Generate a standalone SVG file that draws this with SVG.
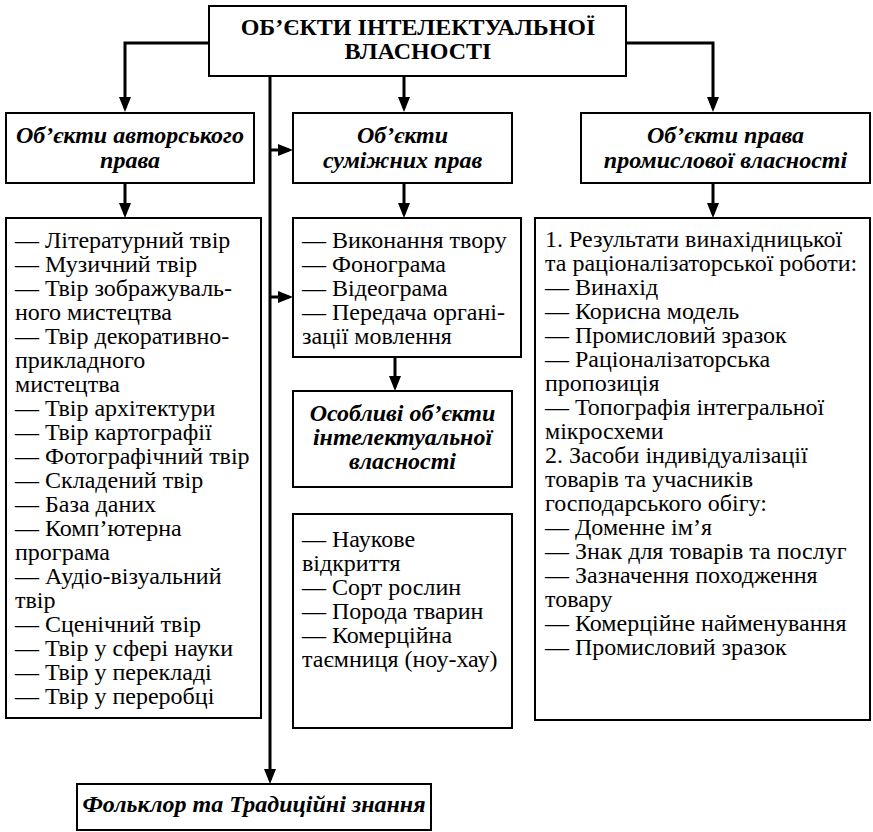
<svg xmlns="http://www.w3.org/2000/svg" width="873" height="832" viewBox="0 0 873 832">
<style>
  .box { fill: #fff; stroke: #000; stroke-width: 2; }
  .conn { fill: none; stroke: #000; stroke-width: 3; }
  text { font-family: "Liberation Serif", "Times New Roman", serif; fill: #000; }
  .title { font-weight: bold; font-size: 24px; text-anchor: middle; }
  .head { font-weight: bold; font-style: italic; font-size: 24px; text-anchor: middle; }
  .list { font-size: 24px; }
</style>
<defs>
  <marker id="arr" markerUnits="userSpaceOnUse" markerWidth="15" markerHeight="12" refX="11" refY="6" orient="auto">
    <path d="M0,0 L15,6 L0,12 z" fill="#000"/>
  </marker>
</defs>

<g id="connectors">
  <path class="conn" d="M209,43 H125 V108" marker-end="url(#arr)"/>
  <path class="conn" d="M626,43 H713 V108" marker-end="url(#arr)"/>
  <path class="conn" d="M404,76 V108" marker-end="url(#arr)"/>
  <path class="conn" d="M270,76 V780" marker-end="url(#arr)"/>
  <path class="conn" d="M270,150 H289" marker-end="url(#arr)"/>
  <path class="conn" d="M270,297 H289" marker-end="url(#arr)"/>
  <path class="conn" d="M125,183 V214" marker-end="url(#arr)"/>
  <path class="conn" d="M404,183 V214" marker-end="url(#arr)"/>
  <path class="conn" d="M713,183 V214" marker-end="url(#arr)"/>
  <path class="conn" d="M395,357 V387" marker-end="url(#arr)"/>
</g>

<g id="root">
  <rect class="box" x="209" y="6" width="417" height="70"/>
  <text class="title" x="418" y="35">ОБ’ЄКТИ ІНТЕЛЕКТУАЛЬНОЇ</text>
  <text class="title" x="418" y="59">ВЛАСНОСТІ</text>
</g>

<g id="author">
  <rect class="box" x="6" y="113" width="248" height="70"/>
  <text class="head" x="130" y="143">Об’єкти авторського</text>
  <text class="head" x="130" y="168">права</text>
</g>

<g id="related">
  <rect class="box" x="293" y="113" width="219" height="70"/>
  <text class="head" x="402.5" y="143">Об’єкти</text>
  <text class="head" x="402.5" y="168">суміжних прав</text>
</g>

<g id="industrial">
  <rect class="box" x="581" y="113" width="289" height="70"/>
  <text class="head" x="725.5" y="143">Об’єкти права</text>
  <text class="head" x="725.5" y="168">промислової власності</text>
</g>

<g id="author-list">
  <rect class="box" x="6" y="218" width="255" height="500"/>
  <text class="list" x="15" y="248">
    <tspan x="15" dy="0">— Літературний твір</tspan>
    <tspan x="15" dy="24">— Музичний твір</tspan>
    <tspan x="15" dy="24">— Твір зображуваль-</tspan>
    <tspan x="15" dy="24">ного мистецтва</tspan>
    <tspan x="15" dy="24">— Твір декоративно-</tspan>
    <tspan x="15" dy="24">прикладного</tspan>
    <tspan x="15" dy="24">мистецтва</tspan>
    <tspan x="15" dy="24">— Твір архітектури</tspan>
    <tspan x="15" dy="24">— Твір картографії</tspan>
    <tspan x="15" dy="24">— Фотографічний твір</tspan>
    <tspan x="15" dy="24">— Складений твір</tspan>
    <tspan x="15" dy="24">— База даних</tspan>
    <tspan x="15" dy="24">— Комп’ютерна</tspan>
    <tspan x="15" dy="24">програма</tspan>
    <tspan x="15" dy="24">— Аудіо-візуальний</tspan>
    <tspan x="15" dy="24">твір</tspan>
    <tspan x="15" dy="24">— Сценічний твір</tspan>
    <tspan x="15" dy="24">— Твір у сфері науки</tspan>
    <tspan x="15" dy="24">— Твір у перекладі</tspan>
    <tspan x="15" dy="24">— Твір у переробці</tspan>
  </text>
</g>

<g id="related-list">
  <rect class="box" x="293" y="218" width="228" height="139"/>
  <text class="list" x="302" y="248">
    <tspan x="302" dy="0">— Виконання твору</tspan>
    <tspan x="302" dy="24">— Фонограма</tspan>
    <tspan x="302" dy="24">— Відеограма</tspan>
    <tspan x="302" dy="24">— Передача органі-</tspan>
    <tspan x="302" dy="24">зації мовлення</tspan>
  </text>
</g>

<g id="special">
  <rect class="box" x="293" y="391" width="219" height="96"/>
  <text class="head" x="402.5" y="421">Особливі об’єкти</text>
  <text class="head" x="402.5" y="445">інтелектуальної</text>
  <text class="head" x="402.5" y="469">власності</text>
</g>

<g id="special-list">
  <rect class="box" x="293" y="514" width="219" height="214"/>
  <text class="list" x="302" y="547">
    <tspan x="302" dy="0">— Наукове</tspan>
    <tspan x="302" dy="24">відкриття</tspan>
    <tspan x="302" dy="24">— Сорт рослин</tspan>
    <tspan x="302" dy="24">— Порода тварин</tspan>
    <tspan x="302" dy="24">— Комерційна</tspan>
    <tspan x="302" dy="24">таємниця (ноу-хау)</tspan>
  </text>
</g>

<g id="industrial-list">
  <rect class="box" x="535" y="218" width="335" height="502"/>
  <text class="list" x="545" y="247">
    <tspan x="545" dy="0">1. Результати винахідницької</tspan>
    <tspan x="545" dy="24">та раціоналізаторської роботи:</tspan>
    <tspan x="545" dy="24">— Винахід</tspan>
    <tspan x="545" dy="24">— Корисна модель</tspan>
    <tspan x="545" dy="24">— Промисловий зразок</tspan>
    <tspan x="545" dy="24">— Раціоналізаторська</tspan>
    <tspan x="545" dy="24">пропозиція</tspan>
    <tspan x="545" dy="24">— Топографія інтегральної</tspan>
    <tspan x="545" dy="24">мікросхеми</tspan>
    <tspan x="545" dy="24">2. Засоби індивідуалізації</tspan>
    <tspan x="545" dy="24">товарів та учасників</tspan>
    <tspan x="545" dy="24">господарського обігу:</tspan>
    <tspan x="545" dy="24">— Доменне ім’я</tspan>
    <tspan x="545" dy="24">— Знак для товарів та послуг</tspan>
    <tspan x="545" dy="24">— Зазначення походження</tspan>
    <tspan x="545" dy="24">товару</tspan>
    <tspan x="545" dy="24">— Комерційне найменування</tspan>
    <tspan x="545" dy="24">— Промисловий зразок</tspan>
  </text>
</g>

<g id="folklore">
  <rect class="box" x="77" y="784" width="354" height="46"/>
  <text class="head" x="254" y="812">Фольклор та Традиційні знання</text>
</g>
</svg>
